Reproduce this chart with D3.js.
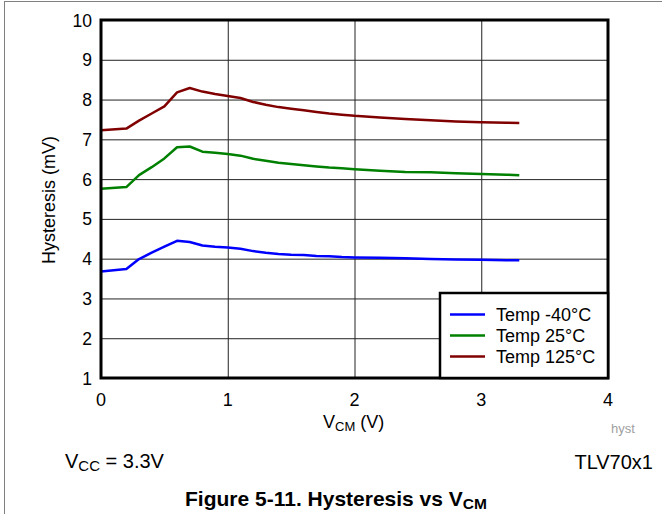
<!DOCTYPE html>
<html><head><meta charset="utf-8">
<script src="https://cdn.jsdelivr.net/npm/d3@7"></script>
<style>body{margin:0;background:#fff}svg{display:block;font-family:"Liberation Sans",Arial,sans-serif}</style>
</head><body>
<script>
const vcm = [0,0.2,0.3,0.4,0.5,0.6,0.7,0.8,0.9,1.0,1.1,1.2,1.3,1.4,1.5,1.6,1.7,1.8,1.9,2.0,2.2,2.4,2.6,2.8,3.0,3.2,3.3];
const tempM40 = [3.68,3.74,3.99,4.15,4.30,4.45,4.42,4.33,4.30,4.28,4.25,4.19,4.15,4.12,4.10,4.09,4.07,4.06,4.04,4.03,4.02,4.01,3.99,3.98,3.97,3.96,3.96];
const temp25 = [5.76,5.80,6.10,6.30,6.52,6.80,6.82,6.69,6.66,6.63,6.59,6.51,6.46,6.41,6.38,6.35,6.32,6.29,6.27,6.25,6.21,6.18,6.17,6.15,6.13,6.11,6.10];
const temp125 = [7.23,7.27,7.47,7.65,7.83,8.18,8.29,8.20,8.14,8.09,8.04,7.94,7.87,7.81,7.77,7.73,7.69,7.65,7.62,7.59,7.55,7.51,7.48,7.45,7.43,7.42,7.41];
const seriesNames = ["Temp -40°C","Temp 25°C","Temp 125°C"];
const seriesColors = ["#0000ff","#008000","#800000"];
const xTicks = [0,1,2,3,4];
const yTicks = [1,2,3,4,5,6,7,8,9,10];

const W=662,H=514;
const svg=d3.select("body").append("svg").attr("width",W).attr("height",H);
svg.append("rect").attr("x",4.5).attr("y",1.5).attr("width",800).attr("height",800).attr("fill","none").attr("stroke","#808080").attr("stroke-width",1);

const L=101,R=608,T=20,B=378;
const x=d3.scaleLinear().domain([0,4]).range([L,R]);
const y=d3.scaleLinear().domain([1,10]).range([B,T]);

const g=svg.append("g");
// grid
g.append("g").attr("transform",`translate(0,${B})`).call(d3.axisBottom(x).tickValues(xTicks).tickSize(-(B-T)).tickFormat(""))
 .call(a=>{a.select(".domain").remove();a.selectAll("line").attr("stroke","#222").attr("stroke-width",1);});
g.append("g").attr("transform",`translate(${L},0)`).call(d3.axisLeft(y).tickValues(yTicks).tickSize(-(R-L)).tickFormat(""))
 .call(a=>{a.select(".domain").remove();a.selectAll("line").attr("stroke","#222").attr("stroke-width",1);});

// lines
const allSeries=[tempM40,temp25,temp125];
const line=d3.line().x((d,i)=>x(vcm[i])).y(d=>y(d));
allSeries.forEach((s,k)=>{
  g.append("path").datum(s).attr("d",line).attr("fill","none").attr("stroke",seriesColors[k]).attr("stroke-width",2.5).attr("stroke-linejoin","round");
});

// frame
g.append("rect").attr("x",L).attr("y",T).attr("width",R-L).attr("height",B-T).attr("fill","none").attr("stroke","#000").attr("stroke-width",3);

// tick labels
g.selectAll(".xt").data(xTicks).enter().append("text").attr("x",d=>x(d)).attr("y",406).attr("text-anchor","middle").attr("font-size",18).text(d=>d);
g.selectAll(".yt").data(yTicks).enter().append("text").attr("x",92).attr("y",d=>y(d)+6.5).attr("text-anchor","end").attr("font-size",17.5).text(d=>d);

// legend
const lg=g.append("g");
lg.append("rect").attr("x",440).attr("y",293).attr("width",R-440).attr("height",B-293).attr("fill","#fff").attr("stroke","#000").attr("stroke-width",2.5);
seriesNames.forEach((n,k)=>{
  const yy=314.5+k*21;
  lg.append("line").attr("x1",450).attr("x2",485).attr("y1",yy).attr("y2",yy).attr("stroke",seriesColors[k]).attr("stroke-width",2.5);
  lg.append("text").attr("x",496).attr("y",yy+6.5).attr("font-size",18).text(n);
});

// axis titles
const xt=svg.append("text").attr("x",323).attr("y",428).attr("font-size",18);
xt.append("tspan").text("V");
xt.append("tspan").attr("font-size",13).attr("dy",2.5).text("CM");
xt.append("tspan").attr("dy",-2.5).text(" (V)");

svg.append("text").attr("transform","translate(55,200) rotate(-90)").attr("text-anchor","middle").attr("font-size",18).text("Hysteresis (mV)");

svg.append("text").attr("x",611).attr("y",433).attr("font-size",13).attr("fill","#a0a0a0").text("hyst");

const vc=svg.append("text").attr("x",65).attr("y",468).attr("font-size",20);
vc.append("tspan").text("V");
vc.append("tspan").attr("font-size",15).attr("dy",3).text("CC");
vc.append("tspan").attr("dy",-3).text(" = 3.3V");

svg.append("text").attr("x",653).attr("y",469).attr("text-anchor","end").attr("font-size",20).text("TLV70x1");

const tt=svg.append("text").attr("x",185).attr("y",506).attr("font-size",21).attr("font-weight","bold");
tt.append("tspan").text("Figure 5-11. Hysteresis vs V");
tt.append("tspan").attr("font-size",15.5).attr("dy",3).text("CM");
</script>
</body></html>
